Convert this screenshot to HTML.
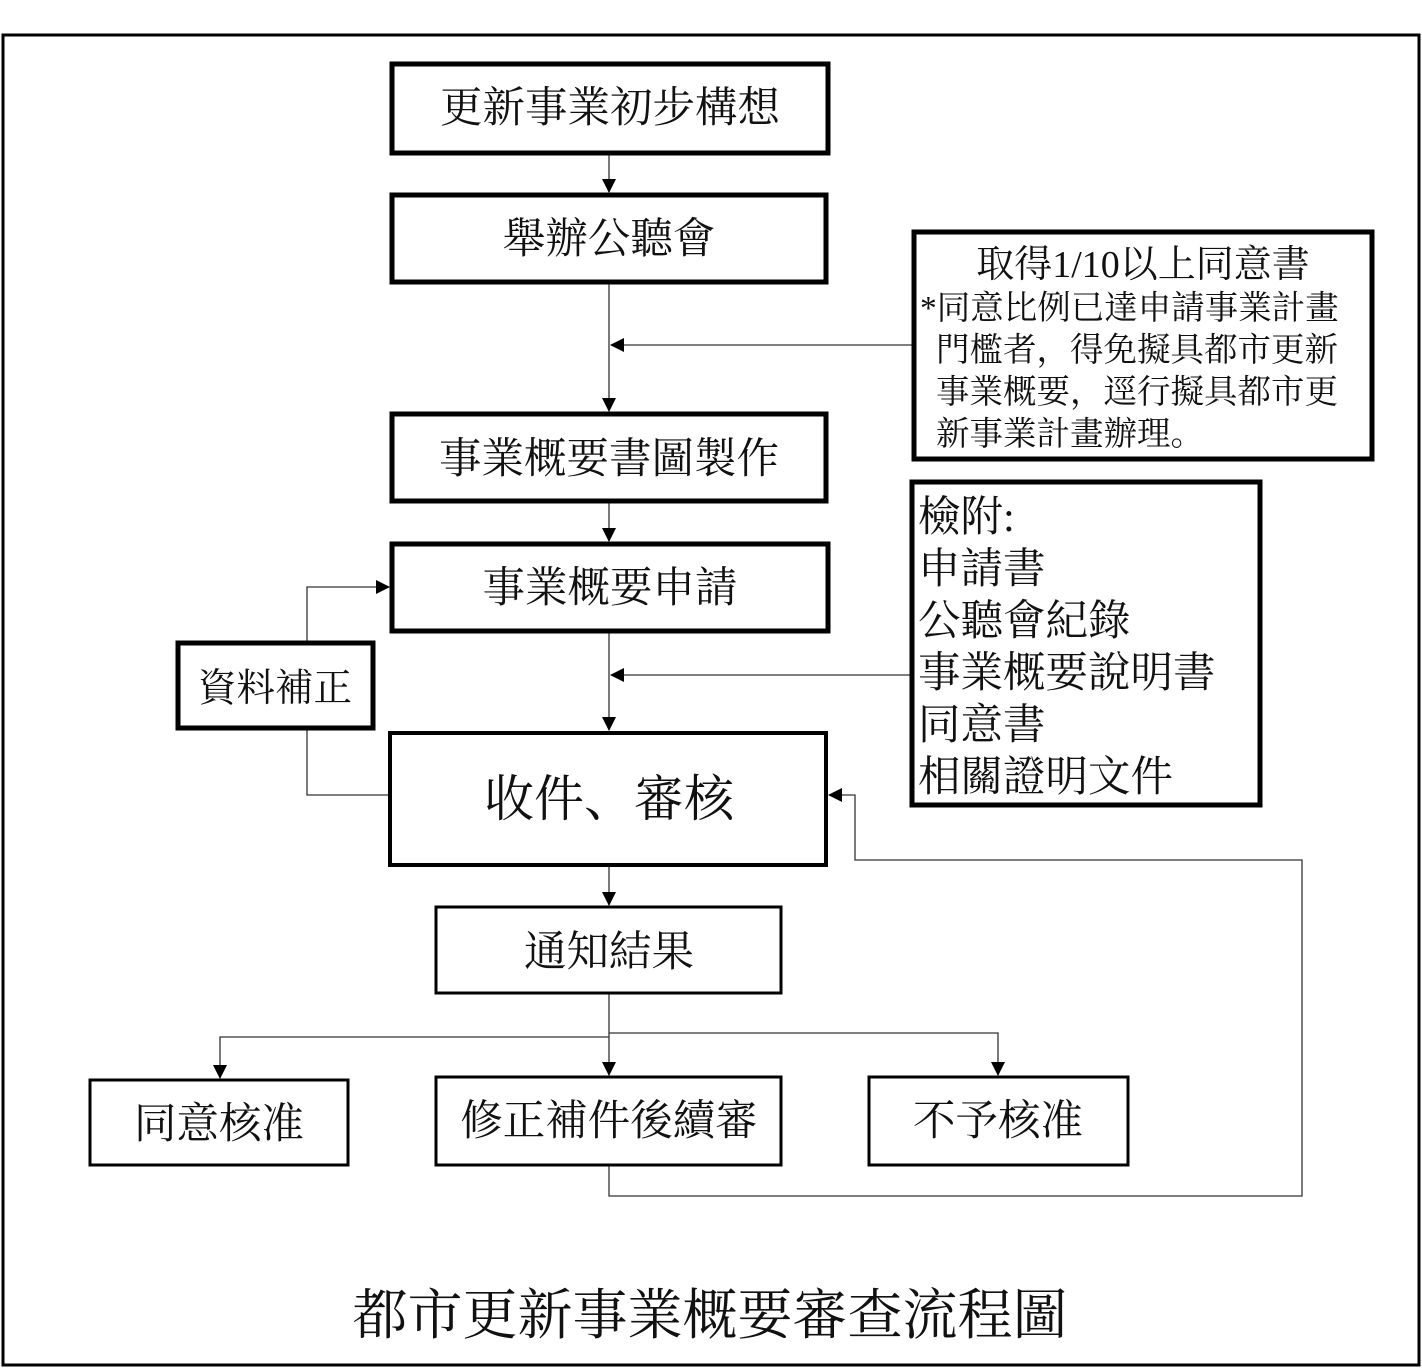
<!DOCTYPE html>
<html><head><meta charset="utf-8"><style>
html,body{margin:0;padding:0;background:#fff;}
svg{display:block;}
text{font-family:"Liberation Serif","Noto Serif CJK SC",serif;fill:#111;}
</style></head><body>
<svg width="1422" height="1368" viewBox="0 0 1422 1368" xmlns="http://www.w3.org/2000/svg">
<defs>
<marker id="a" markerWidth="14" markerHeight="14" refX="13" refY="7" orient="auto" markerUnits="userSpaceOnUse" viewBox="0 0 14 14">
<path d="M0,0 L14,7 L0,14 z" fill="#000"/></marker>
</defs>
<rect x="3" y="35" width="1416" height="1330" fill="none" stroke="#000" stroke-width="3"/>
<g stroke="#333" stroke-width="1.3" fill="none">
<line x1="609" y1="155" x2="609" y2="192" marker-end="url(#a)"/>
<line x1="609" y1="284" x2="609" y2="411" marker-end="url(#a)"/>
<line x1="912" y1="345" x2="611" y2="345" marker-end="url(#a)"/>
<line x1="609" y1="503" x2="609" y2="541" marker-end="url(#a)"/>
<line x1="609" y1="633" x2="609" y2="730" marker-end="url(#a)"/>
<line x1="910" y1="675" x2="611" y2="675" marker-end="url(#a)"/>
<polyline points="388,795 307,795 307,587 389,587" marker-end="url(#a)"/>
<line x1="609" y1="867" x2="609" y2="905" marker-end="url(#a)"/>
<line x1="609" y1="994" x2="609" y2="1075" marker-end="url(#a)"/>
<polyline points="609,1037 220,1037 220,1078" marker-end="url(#a)"/>
<polyline points="609,1033 998,1033 998,1075" marker-end="url(#a)"/>
<polyline points="609,1166 609,1196 1302,1196 1302,860 855,860 855,795 829,795" marker-end="url(#a)"/>
</g>
<g fill="#fff" stroke="#000">
<rect x="392" y="64" width="436" height="89" stroke-width="5"/>
<rect x="392" y="195" width="434" height="87" stroke-width="5"/>
<rect x="914" y="232" width="458" height="227" stroke-width="5"/>
<rect x="392" y="414" width="434" height="87" stroke-width="5"/>
<rect x="392" y="544" width="436" height="87" stroke-width="5"/>
<rect x="178" y="643" width="195" height="85" stroke-width="5"/>
<rect x="912" y="482" width="348" height="323" stroke-width="5"/>
<rect x="390" y="733" width="436" height="132" stroke-width="4"/>
<rect x="436" y="907" width="345" height="86" stroke-width="3"/>
<rect x="90" y="1080" width="258" height="85" stroke-width="3"/>
<rect x="436" y="1077" width="345" height="88" stroke-width="3"/>
<rect x="869" y="1077" width="259" height="88" stroke-width="3"/>
</g>
<g text-anchor="middle" font-size="42.5">
<text x="610" y="122">更新事業初步構想</text>
<text x="609" y="253">舉辦公聽會</text>
<text x="609" y="473">事業概要書圖製作</text>
<text x="610" y="602">事業概要申請</text>
<text x="275" y="701" font-size="38.5">資料補正</text>
<text x="609" y="816" font-size="50">收件、審核</text>
<text x="609" y="966">通知結果</text>
<text x="219" y="1138">同意核准</text>
<text x="609" y="1135">修正補件後續審</text>
<text x="998" y="1135">不予核准</text>
<text x="710" y="1334" font-size="55">都市更新事業概要審查流程圖</text>
<text x="1143" y="277" font-size="38">取得1/10以上同意書</text>
</g>
<g font-size="33.5">
<text x="920" y="319">*同意比例已達申請事業計畫</text>
<text x="936" y="361">門檻者，得免擬具都市更新</text>
<text x="936" y="403">事業概要，逕行擬具都市更</text>
<text x="936" y="445">新事業計畫辦理。</text>
</g>
<g font-size="42.5">
<text x="918" y="531">檢附:</text>
<text x="918" y="583">申請書</text>
<text x="918" y="635">公聽會紀錄</text>
<text x="918" y="687">事業概要說明書</text>
<text x="918" y="739">同意書</text>
<text x="918" y="791">相關證明文件</text>
</g>
</svg>
</body></html>
